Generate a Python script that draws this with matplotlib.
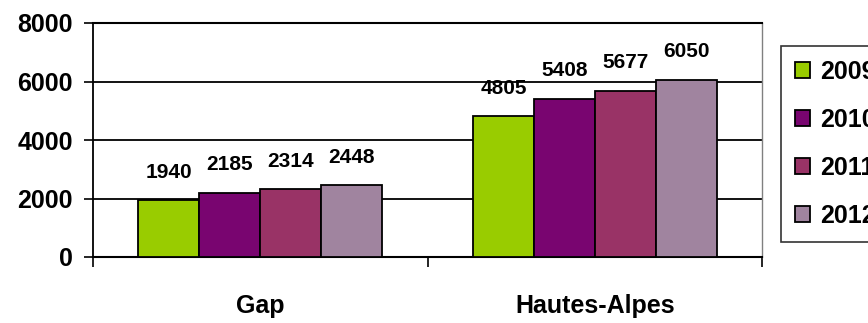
import matplotlib
matplotlib.use("Agg")
import matplotlib.pyplot as plt
import numpy as np

categories = ["Gap", "Hautes-Alpes"]
years = ["2009", "2010", "2011", "2012"]
values = {
    "2009": [1940, 4805],
    "2010": [2185, 5408],
    "2011": [2314, 5677],
    "2012": [2448, 6050],
}
colors = ["#99CC00", "#790570", "#993366", "#A0849F"]
yticks = [0, 2000, 4000, 6000, 8000]

plt.rcParams['font.family'] = ['Liberation Sans', 'DejaVu Sans']
plt.rcParams['font.weight'] = 'bold'

fig = plt.figure(figsize=(8.68, 3.23), dpi=100)
ax = fig.add_axes([93/868, 1-257/323, (762-93)/868, (257-23)/323])

x = np.arange(len(categories))
w = 0.182
for i, (yr, c) in enumerate(zip(years, colors)):
    xs = x + (i - 1.5) * w
    ax.bar(xs, values[yr], width=w, color=c, edgecolor='black',
           linewidth=1.3, label=yr, zorder=3)
    for xi, v in zip(xs, values[yr]):
        ax.annotate(str(v), (xi, v), xytext=(0, 13.5), textcoords='offset points',
                    ha='center', va='bottom', fontsize=15, fontweight='bold')

ax.set_xlim(-0.5, 1.5)
ax.set_ylim(0, 8000)
ax.set_yticks(yticks)
ax.set_yticklabels([str(t) for t in yticks], fontsize=18, fontweight='bold')
ax.yaxis.grid(True, color='black', linewidth=1.3, zorder=0)
ax.set_axisbelow(True)

ax.set_xticks([-0.5, 0.5, 1.5])
ax.set_xticklabels([])
ax.set_xticks(x, minor=True)
ax.set_xticklabels(categories, minor=True, fontsize=18, fontweight='bold')
ax.tick_params(axis='x', which='major', direction='out', length=7.5, width=1.2)
ax.tick_params(axis='x', which='minor', length=0, pad=27)
ax.tick_params(axis='y', direction='out', length=6.5, width=1.2, pad=8)

ax.spines['left'].set_linewidth(1.3)
ax.spines['bottom'].set_linewidth(1.5)
ax.spines['top'].set_linewidth(1.5)
ax.spines['right'].set_color('#808080')
ax.spines['right'].set_linewidth(1.0)

leg = ax.legend(loc='upper left', bbox_to_anchor=(781/868, 1-46/323),
                bbox_transform=fig.transFigure, frameon=True, fancybox=False,
                edgecolor='black', handlelength=0.6, handleheight=0.6,
                labelspacing=0.96, borderpad=0.55, handletextpad=0.4,
                borderaxespad=0.0,
                prop={'weight': 'bold', 'size': 18})
leg.get_frame().set_linewidth(1.2)

fig.savefig("out.png", dpi=100)
